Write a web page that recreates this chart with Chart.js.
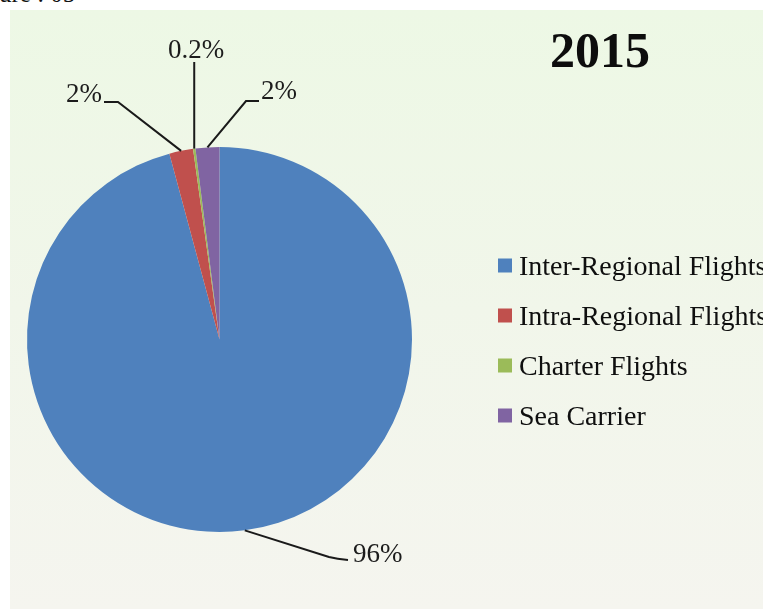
<!DOCTYPE html>
<html>
<head>
<meta charset="utf-8">
<title>2015</title>
<script src="https://cdn.jsdelivr.net/npm/chart.js@4/dist/chart.umd.min.js"></script>
<style>
  html, body { margin: 0; padding: 0; background: #ffffff; overflow: hidden; }
  #caption {
    position: absolute; left: -1px; top: -21px;
    font: 25px "Liberation Serif", "Times New Roman", serif; color: #111;
    white-space: nowrap; line-height: 30px;
  }
  #panel {
    position: absolute; left: 10px; top: 10px; width: 753px; height: 599px;
    background: linear-gradient(to bottom, #edf8e5 0%, #f1f6ea 50%, #f5f5ef 100%);
  }
  #wrap { position: absolute; left: 0; top: 0; width: 763px; height: 609px; }
</style>
</head>
<body>
<div id="caption">ure : 05</div>
<div id="panel"></div>
<div id="wrap"><canvas id="shareChart" width="763" height="609"></canvas></div>
<script>
// Share of arrivals by mode, 2015
var chartTitle = '2015';
var categories = ['Inter-Regional Flights', 'Intra-Regional Flights', 'Charter Flights', 'Sea Carrier'];
var shares = [96, 2, 0.2, 2];

var sliceColors = ['#4f81bd', '#c0504d', '#9bbb59', '#8064a2'];
var serif = '"Liberation Serif", "Times New Roman", serif';

// where each percentage label sits and how its leader line bends
var callouts = [
  { elbow: [337, 559], end: [348, 560], textX: 353, baseline: 562, align: 'left', curve: true },
  { elbow: [118, 102], end: [104, 102], textX: 102, baseline: 102, align: 'right' },
  { vertical: true, top: 62, baseline: 58, align: 'center', dx: 2 },
  { elbow: [246, 101], end: [259, 101], textX: 261, baseline: 99, align: 'left' }
];

var calloutPlugin = {
  id: 'callouts',
  afterDraw: function (chart) {
    var ctx = chart.ctx;
    var arcs = chart.getDatasetMeta(0).data;
    var values = chart.data.datasets[0].data;

    ctx.save();
    ctx.strokeStyle = '#1a1a1a';
    ctx.lineWidth = 2;
    ctx.fillStyle = '#1c1c1c';
    ctx.font = '27px ' + serif;
    ctx.textBaseline = 'alphabetic';

    arcs.forEach(function (arc, i) {
      var c = callouts[i];
      var mid = (arc.startAngle + arc.endAngle) / 2;
      var ax = arc.x + Math.cos(mid) * arc.outerRadius;
      var ay = arc.y + Math.sin(mid) * arc.outerRadius;
      var text = values[i] + '%';

      ctx.beginPath();
      ctx.moveTo(ax, ay);
      if (c.vertical) {
        ctx.lineTo(ax, c.top);
        ctx.stroke();
        ctx.textAlign = 'center';
        ctx.fillText(text, ax + c.dx, c.baseline);
        return;
      }
      if (c.curve) {
        ctx.lineTo(c.elbow[0] - 8, c.elbow[1] - 2);
        ctx.quadraticCurveTo(c.elbow[0], c.elbow[1], c.end[0], c.end[1]);
      } else {
        ctx.lineTo(c.elbow[0], c.elbow[1]);
        ctx.lineTo(c.end[0], c.end[1]);
      }
      ctx.stroke();
      ctx.textAlign = c.align;
      ctx.fillText(text, c.textX, c.baseline);
    });

    // title
    ctx.fillStyle = '#0d0d0d';
    ctx.font = 'bold 50px ' + serif;
    ctx.textAlign = 'center';
    ctx.fillText(chartTitle, 600, 67);

    // legend
    var colors = chart.data.datasets[0].backgroundColor;
    ctx.font = '28px ' + serif;
    ctx.textAlign = 'left';
    chart.data.labels.forEach(function (label, i) {
      var cy = 265.5 + i * 50;
      ctx.fillStyle = colors[i];
      ctx.fillRect(498, cy - 7, 14, 14);
      ctx.fillStyle = '#0f0f0f';
      ctx.fillText(label, 519, cy + 9);
    });
    ctx.restore();
  }
};

var ctx = document.getElementById('shareChart').getContext('2d');

var shareChart = new Chart(ctx, {
  type: 'pie',
  data: {
    labels: categories,
    datasets: [{
      data: shares,
      backgroundColor: sliceColors,
      borderWidth: 0
    }]
  },
  options: {
    responsive: false,
    animation: false,
    rotation: 0,
    layout: {
      padding: { left: 27, top: 147, right: 351, bottom: 77 }
    },
    plugins: {
      legend: { display: false },
      tooltip: { enabled: false },
      title: { display: false }
    }
  },
  plugins: [calloutPlugin]
});
</script>
</body>
</html>
